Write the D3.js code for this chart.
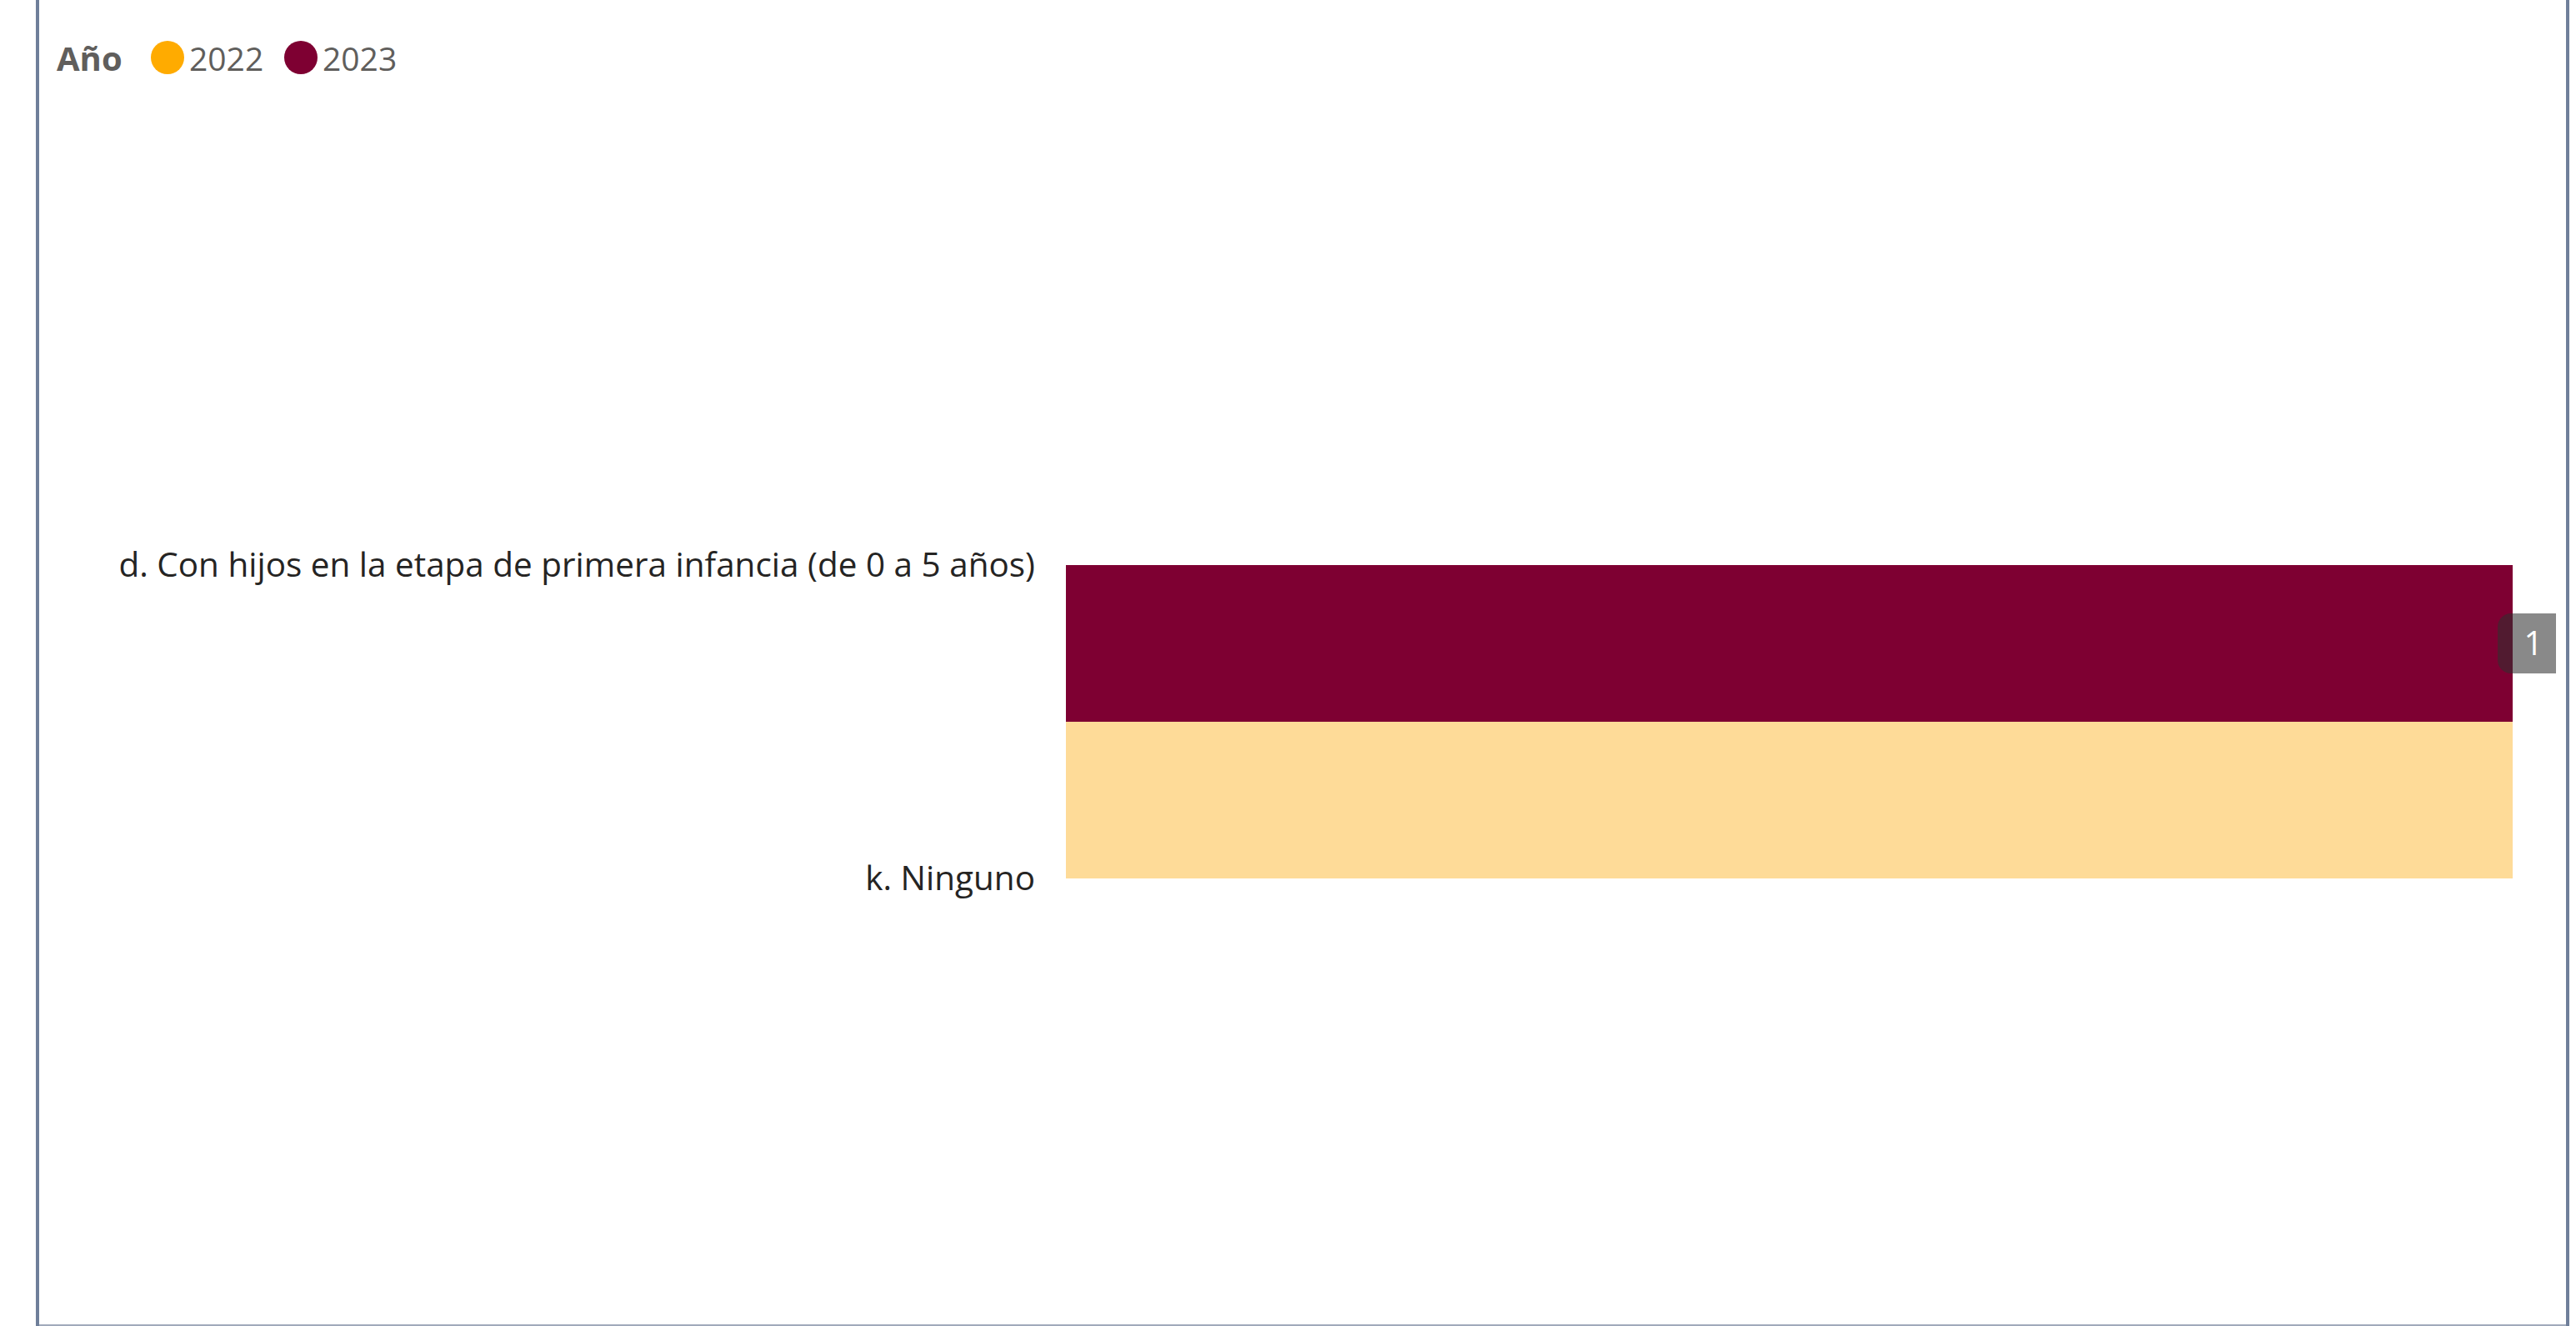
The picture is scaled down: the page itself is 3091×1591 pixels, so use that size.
<!DOCTYPE html>
<html>
<head>
<meta charset="utf-8">
<script src="https://cdn.jsdelivr.net/npm/d3@7"></script>
<style>
  html, body { margin: 0; padding: 0; background: #fff; }
  svg { display: block; }
</style>
</head>
<body>
<script>
// ---- data ----
const categories = [
  "d. Con hijos en la etapa de primera infancia (de 0 a 5 años)",
  "k. Ninguno"
];
const years = ["2022", "2023"];
const values2022 = [null, 1];
const values2023 = [1, null];
const legendTitle = "Año";
const highlightLabel = "1";

// ---- layout ----
const W = 3091, H = 1591;
const fontFamily = "'Segoe UI', 'Open Sans', 'Noto Sans', sans-serif";
const svg = d3.select("body").append("svg").attr("width", W).attr("height", H);

svg.append("rect").attr("width", W).attr("height", H).attr("fill", "#fff");

// frame
svg.append("rect").attr("x", 43).attr("y", 0).attr("width", 4).attr("height", H).attr("fill", "#6f7f9a");
svg.append("rect").attr("x", 3079).attr("y", 0).attr("width", 4).attr("height", H).attr("fill", "#6f7f9a");
svg.append("rect").attr("x", 47).attr("y", H - 2).attr("width", 3032).attr("height", 2).attr("fill", "#a0aabb");

const colors = { "2022": "#FFAB00", "2023": "#7E0032" };
const barColors = { "2022": "#FEDB98", "2023": "#7E0032" };

// scales
const y = d3.scaleBand().domain(categories).range([490, 1242]).padding(0);
const yInner = d3.scaleBand().domain(years).range([0, y.bandwidth()]).padding(0);
const x = d3.scaleLinear().domain([0, 1]).range([1279, 3015]);

const rows = [];
categories.forEach((c, i) => {
  rows.push({ cat: c, year: "2022", value: values2022[i] });
  rows.push({ cat: c, year: "2023", value: values2023[i] });
});

svg.append("g").selectAll("rect")
  .data(rows.filter(d => d.value != null))
  .join("rect")
  .attr("x", x(0))
  .attr("y", d => y(d.cat) + yInner(d.year))
  .attr("width", d => x(d.value) - x(0))
  .attr("height", yInner.bandwidth())
  .attr("fill", d => barColors[d.year]);

// axis labels
const yAxis = d3.axisLeft(y).tickSize(0).tickPadding(0);
const gAxis = svg.append("g").attr("transform", `translate(1242,0)`).call(yAxis);
gAxis.select(".domain").remove();
gAxis.selectAll("text")
  .attr("font-family", fontFamily)
  .attr("font-size", 40)
  .attr("fill", "#252423")
  .attr("dy", "0.35em");
// fit long label to reference width
const longNode = gAxis.selectAll("text").nodes()[0];
const w0 = longNode.getComputedTextLength();
const fs = 40 * 1100 / w0;
gAxis.selectAll("text").attr("font-size", fs);

// highlight data label box
const hv = values2023[0];
const hy = y(categories[0]) + yInner("2023") + yInner.bandwidth() / 2;
const hx = x(hv);
const gBox = svg.append("g");
gBox.append("path")
  .attr("d", () => {
    const x0 = hx - 18, x1 = hx + 52, y0 = hy - 36, y1 = hy + 36, r = 16;
    return `M${x0 + r},${y0} H${x1} V${y1} H${x0 + r} A${r},${r} 0 0 1 ${x0},${y1 - r} V${y0 + r} A${r},${r} 0 0 1 ${x0 + r},${y0} Z`;
  })
  .attr("fill", "rgba(48,48,48,0.57)");
gBox.append("text")
  .attr("x", hx + 25).attr("y", hy)
  .attr("dy", "0.35em")
  .attr("text-anchor", "middle")
  .attr("font-family", fontFamily)
  .attr("font-size", 40)
  .attr("fill", "#fff")
  .text(highlightLabel);

// legend
const lg = svg.append("g");
lg.append("text")
  .attr("x", 68).attr("y", 85)
  .attr("font-family", fontFamily)
  .attr("font-weight", "bold")
  .attr("font-size", 40)
  .attr("fill", "#605E5C")
  .text(legendTitle);
const legendX = [201, 361];
years.forEach((yr, i) => {
  lg.append("circle").attr("cx", legendX[i]).attr("cy", 69).attr("r", 20).attr("fill", colors[yr]);
  lg.append("text")
    .attr("x", legendX[i] + 26).attr("y", 85)
    .attr("font-family", fontFamily)
    .attr("font-size", 39)
    .attr("fill", "#605E5C")
    .text(yr);
});
</script>
</body>
</html>
